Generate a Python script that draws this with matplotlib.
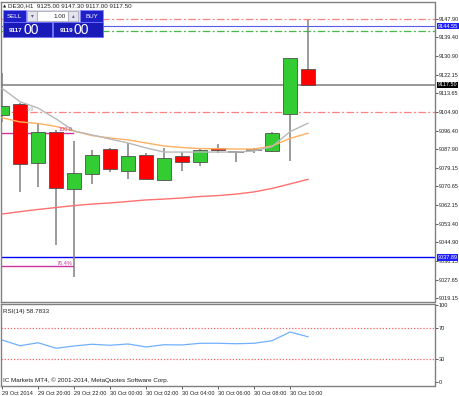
import matplotlib
matplotlib.use("Agg")
import matplotlib.pyplot as plt
import matplotlib.transforms as mtransforms
from matplotlib.patches import Rectangle

# DE30 H1 bars, 29 Oct 18:00 .. 30 Oct 11:00
opens = [9103.6, 9108.5, 9081.4, 9095.9, 9069.6, 9076.4, 9087.9, 9077.6, 9085.1,
         9073.5, 9084.8, 9081.8, 9088.4, 9086.5, 9087.3, 9087.0, 9104.1, 9125.0]
highs = [9123.0, 9109.1, 9099.9, 9096.5, 9091.6, 9087.4, 9088.4, 9090.7, 9086.1,
         9088.4, 9086.7, 9087.7, 9090.1, 9087.1, 9088.5, 9095.9, 9129.9, 9147.3]
lows = [9100.4, 9068.1, 9070.5, 9043.6, 9029.0, 9071.8, 9077.4, 9074.1, 9074.1,
        9073.1, 9077.9, 9080.1, 9085.9, 9082.0, 9085.9, 9086.4, 9082.4, 9117.0]
closes = [9107.9, 9081.0, 9095.9, 9070.0, 9076.9, 9085.0, 9078.8, 9084.7, 9074.2,
          9083.6, 9082.0, 9087.6, 9087.3, 9086.5, 9087.3, 9095.4, 9129.8, 9117.5]

ma_gray = [9115.9, 9109.7, 9106.8, 9101.8, 9096.2, 9094.4, 9092.5, 9090.7, 9088.4,
           9086.5, 9086.5, 9086.5, 9086.5, 9086.5, 9087.0, 9089.0, 9095.9, 9099.8]
ma_orange = [9102.3, 9100.4, 9099.7, 9098.3, 9096.2, 9094.1, 9093.0, 9092.1, 9090.7,
             9089.3, 9088.6, 9088.1, 9088.0, 9087.9, 9087.9, 9089.3, 9092.8, 9095.2]
ma_red = [9057.9, 9059.0, 9060.0, 9060.9, 9061.8, 9062.5, 9063.0, 9063.7, 9064.4,
          9064.8, 9065.3, 9066.0, 9066.4, 9067.1, 9068.1, 9069.7, 9071.8, 9073.9]

rsi = [54.5, 47.1, 51.0, 43.8, 46.8, 49.0, 47.7, 49.4, 45.5,
       48.4, 48.1, 50.3, 50.3, 49.7, 50.3, 53.6, 64.9, 58.78]

time_labels = ["29 Oct 2014", "", "29 Oct 20:00", "", "29 Oct 22:00", "", "30 Oct 00:00", "",
               "30 Oct 02:00", "", "30 Oct 04:00", "", "30 Oct 06:00", "", "30 Oct 08:00", "",
               "30 Oct 10:00", ""]

price_ticks = [9147.90, 9139.40, 9130.90, 9122.15, 9113.65, 9104.90, 9096.40, 9087.90,
               9079.15, 9070.65, 9062.15, 9053.40, 9044.90, 9036.15, 9027.65, 9019.15]

tp_line = 9147.90
ask_line = 9144.55
green_line = 9142.35
bid_line = 9117.50
sl_line = 9105.0
support_line = 9037.89
fib_100 = 9095.5
fib_764 = 9033.8

plt.rcParams["font.family"] = ["Liberation Sans", "DejaVu Sans"]
FS = 4.5
FSY = 4.0
FRAME = "#808080"

W, H = 459, 396
fig = plt.figure(figsize=(W / 100, H / 100), dpi=100)
fig.patch.set_facecolor("white")


def px_rect(l, t, r, b):
    return [l / W, 1 - b / H, (r - l) / W, (b - t) / H]


ax = fig.add_axes(px_rect(1, 2, 434.5, 302))
ax2 = fig.add_axes(px_rect(1, 304, 434.5, 386))

n = len(opens)
xs = list(range(n))

# ---- main chart ----
for a in (ax, ax2):
    for s in a.spines.values():
        s.set_color(FRAME)
        s.set_linewidth(1.0)

ax.set_xlim(-0.06, 24.03)
ax.set_ylim(9017.3, 9155.75)

dashdot = (0, (6, 2, 1.5, 2))
ax.axhline(tp_line, color="#ff8080", lw=0.9, ls=dashdot, zorder=1)
ax.axhline(ask_line, color="#5a5aee", lw=0.8, zorder=1)
ax.axhline(green_line, color="#44bb44", lw=0.9, ls=dashdot, zorder=1)
ax.axhline(bid_line, color="#909090", lw=1.3, zorder=1)
ax.axhline(sl_line, color="#ff8080", lw=0.9, ls=dashdot, zorder=1)
ax.axhline(support_line, color="#0000ff", lw=1.0, zorder=1)

# fibo levels
ax.plot([0, 3.94], [fib_100, fib_100], color="#cc3399", lw=1.0, zorder=2)
ax.plot([0, 3.94], [fib_764, fib_764], color="#cc3399", lw=1.0, zorder=2)
ax.text(3.94, fib_100 + 0.3, "100.0", color="#cc3399", fontsize=FS - 0.5,
        ha="right", va="bottom", zorder=6)
ax.text(3.94, fib_764 + 0.3, "76.4%", color="#cc3399", fontsize=FS - 0.5,
        ha="right", va="bottom", zorder=6)
ax.text(1.4, 9106.2, "5.9", color="#a0a0a0", fontsize=FS - 0.8, ha="left",
        va="center", zorder=6)

bw = 0.76
for i in xs:
    o, h, l, c = opens[i], highs[i], lows[i], closes[i]
    ax.plot([i, i], [l, h], color="#808080", lw=1.1, zorder=3, solid_capstyle="butt")
    if abs(c - o) < 0.05:
        ax.plot([i - bw / 2, i + bw / 2], [o, o], color="#808080", lw=1.4, zorder=4)
        continue
    col = "#33cc33" if c > o else "#ff0000"
    ax.add_patch(Rectangle((i - bw / 2, min(o, c)), bw, abs(c - o),
                           facecolor=col, edgecolor="#505050", lw=0.6, zorder=4))

ax.plot(xs, ma_red, color="#ff7070", lw=1.0, zorder=5)
ax.plot(xs, ma_orange, color="#ffb060", lw=1.0, zorder=5)
ax.plot(xs, ma_gray, color="#b8b8b8", lw=1.0, zorder=5)

ax.set_xticks([])
ax.yaxis.tick_right()
ax.set_yticks(price_ticks)
ax.set_yticklabels(["%.2f" % p for p in price_ticks])
ax.tick_params(axis="y", length=2, width=0.6, pad=1.0, labelsize=FSY,
               color="#404040", labelcolor="#202020")

tr = mtransforms.blended_transform_factory(ax.transAxes, ax.transData)
for val, bg in ((ask_line, "#1e1eff"), (bid_line, "#000000"), (support_line, "#1e1eff")):
    ax.text(1.0075, val, "%.2f" % val, transform=tr, fontsize=FSY, color="white",
            ha="left", va="center", clip_on=False, zorder=10,
            bbox=dict(boxstyle="square,pad=0.12", fc=bg, ec="none"))

# ---- RSI panel ----
ax2.set_xlim(-0.06, 24.03)
ax2.set_ylim(-5.2, 101.3)
ax2.axhline(70, color="#ff6060", lw=0.9, ls=(0, (1, 1.5)))
ax2.axhline(30, color="#ff6060", lw=0.9, ls=(0, (1, 1.5)))
ax2.plot(xs, rsi, color="#70b0ff", lw=0.9)
ax2.yaxis.tick_right()
ax2.set_yticks([100, 70, 30, 0])
ax2.set_yticklabels(["100", "70", "30", "0"])
ax2.tick_params(axis="y", length=2, width=0.6, pad=1.0, labelsize=FSY,
                color="#404040", labelcolor="#202020")
tick_pos = [i for i, t in enumerate(time_labels) if t]
ax2.set_xticks(tick_pos)
ax2.set_xticklabels([time_labels[i] for i in tick_pos])
ax2.tick_params(axis="x", length=2.5, width=0.6, pad=0.8, labelsize=FSY + 0.1,
                color="#404040", labelcolor="#202020")
for lbl in ax2.get_xticklabels():
    lbl.set_ha("left")

ax2.text(0.005, 0.91, "RSI(14) 58.7833", transform=ax2.transAxes, fontsize=FS,
         ha="left", va="center", color="#202020")
ax2.text(0.005, 0.07, "IC Markets MT4, \u00a9 2001-2014, MetaQuotes Software Corp.",
         transform=ax2.transAxes, fontsize=FS, ha="left", va="center", color="#202020")

# ---- overlay: title and one-click trading panel (pixel coords) ----
ov = fig.add_axes([0, 0, 1, 1], zorder=20)
ov.set_xlim(0, W)
ov.set_ylim(H, 0)
ov.axis("off")
ov.patch.set_alpha(0)

ov.text(2.5, 6, "\u25b2", fontsize=3, ha="left", va="center", color="#202020",
        family="DejaVu Sans")
ov.text(8, 6, "DE30,H1  9125.00 9147.30 9117.00 9117.50", fontsize=FS,
        ha="left", va="center", color="#202020")

blue = "#2020c8"
ov.add_patch(Rectangle((3, 10), 100, 27, fc="#d8d8e8", ec="none"))
ov.add_patch(Rectangle((3, 10), 23, 12, fc=blue, ec="#8888ff", lw=0.6))
ov.add_patch(Rectangle((80, 10), 23, 12, fc=blue, ec="#8888ff", lw=0.6))
ov.add_patch(Rectangle((27, 11), 10, 10, fc="#e4e4ec", ec="#a0a0b0", lw=0.5))
ov.add_patch(Rectangle((37, 11), 31, 10, fc="white", ec="#a0a0b0", lw=0.5))
ov.add_patch(Rectangle((68, 11), 10, 10, fc="#e4e4ec", ec="#a0a0b0", lw=0.5))
ov.text(14.5, 16, "SELL", fontsize=FS, color="white", ha="center", va="center")
ov.text(91.5, 16, "BUY", fontsize=FS, color="white", ha="center", va="center")
ov.text(32, 16, "\u25be", fontsize=4, color="#606080", ha="center", va="center",
        family="DejaVu Sans")
ov.text(73, 16, "\u25b4", fontsize=4, color="#606080", ha="center", va="center",
        family="DejaVu Sans")
ov.text(66, 16, "1.00", fontsize=FS, color="#202020", ha="right", va="center")
ov.add_patch(Rectangle((3, 22), 49, 15, fc="#1a1ab8", ec="#7070ff", lw=0.6))
ov.add_patch(Rectangle((53, 22), 50, 15, fc="#1a1ab8", ec="#7070ff", lw=0.6))
ov.text(22, 31.5, "9117", fontsize=FS, color="white", ha="right", va="baseline",
        fontweight="bold")
ov.text(23, 33.5, "00", fontsize=10, color="white", ha="left", va="baseline")
ov.text(73, 31.5, "9119", fontsize=FS, color="white", ha="right", va="baseline",
        fontweight="bold")
ov.text(74, 33.5, "00", fontsize=10, color="white", ha="left", va="baseline")

fig.savefig("out.png", dpi=100, facecolor="white")
